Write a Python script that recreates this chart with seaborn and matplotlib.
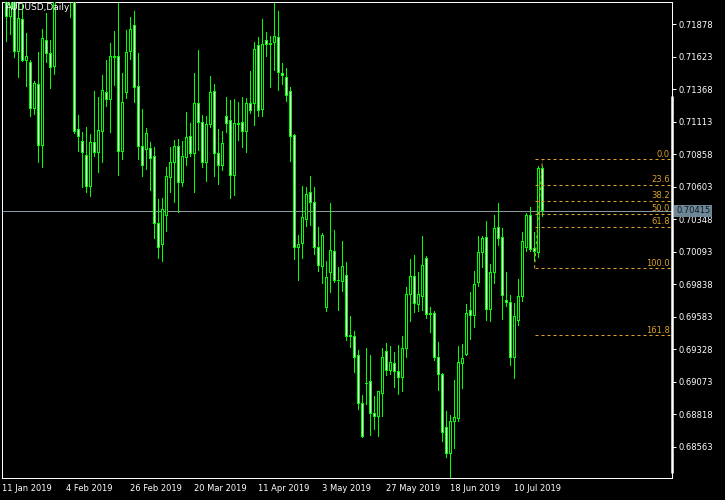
import numpy as np
import pandas as pd
import matplotlib
matplotlib.use("Agg")
import matplotlib.pyplot as plt
import matplotlib.transforms as mtransforms
import seaborn as sns

# AUDUSD daily bars, 11 Jan 2019 .. 19 Jul 2019
opens = [
    0.72133, 0.72054, 0.71944, 0.72078, 0.71662, 0.71913, 0.71591, 0.71576, 0.71222, 0.71403,
    0.70924, 0.71748, 0.71646, 0.71544, 0.72109, 0.72306, 0.72227, 0.72149, 0.72086, 0.71057,
    0.70963, 0.70853, 0.70602, 0.70948, 0.70869, 0.71034, 0.71340, 0.71285, 0.71630, 0.71623,
    0.70877, 0.71340, 0.71662, 0.71866, 0.71387, 0.70916, 0.70893, 0.70908, 0.70838, 0.70312,
    0.70147, 0.70382, 0.70673, 0.70791, 0.70916, 0.70641, 0.70830, 0.70995, 0.70861, 0.71261,
    0.71112, 0.70791, 0.71096, 0.71348, 0.70861, 0.70767, 0.71152, 0.71120, 0.70696, 0.71104,
    0.71112, 0.71034, 0.71254, 0.71254, 0.71709, 0.71214, 0.71748, 0.71717, 0.71733, 0.71772,
    0.71489, 0.71458, 0.71348, 0.71010, 0.70131, 0.70155, 0.70343, 0.70555, 0.70484, 0.70131,
    0.69975, 0.69660, 0.69929, 0.70092, 0.69872, 0.69857, 0.69904, 0.69433, 0.69425, 0.69283,
    0.68906, 0.69063, 0.69079, 0.68821, 0.68797, 0.68985, 0.69307, 0.69158, 0.69220, 0.69150,
    0.69103, 0.69331, 0.69755, 0.69896, 0.69676, 0.69739, 0.70038, 0.69606, 0.69606, 0.69267,
    0.69134, 0.68718, 0.68510, 0.68758, 0.68782, 0.69213, 0.69291, 0.69629, 0.69590, 0.69849,
    0.70084, 0.70202, 0.69644, 0.69929, 0.70288, 0.70202, 0.69715, 0.69699, 0.69267, 0.69551,
    0.69739, 0.70124, 0.70382, 0.70116, 0.70084, 0.70751,
]
highs = [
    0.72227, 0.72109, 0.72109, 0.72109, 0.72070, 0.72031, 0.71811, 0.71599, 0.71434, 0.71662,
    0.71842, 0.71968, 0.71756, 0.72188, 0.72384, 0.72463, 0.72345, 0.72266, 0.72133, 0.71167,
    0.71034, 0.71073, 0.71018, 0.71356, 0.71309, 0.71481, 0.71599, 0.71733, 0.71827, 0.72046,
    0.71497, 0.71835, 0.71937, 0.71984, 0.71654, 0.71214, 0.71065, 0.70955, 0.70916, 0.70508,
    0.70516, 0.70759, 0.70916, 0.70971, 0.70979, 0.70963, 0.71191, 0.71104, 0.71497, 0.71678,
    0.71167, 0.71159, 0.71474, 0.71411, 0.71057, 0.71042, 0.71309, 0.71285, 0.71293, 0.71269,
    0.71309, 0.71301, 0.71513, 0.71740, 0.71780, 0.71921, 0.71819, 0.71787, 0.72046, 0.71984,
    0.71576, 0.71536, 0.71387, 0.71018, 0.70225, 0.70610, 0.70602, 0.70688, 0.70602, 0.70288,
    0.70241, 0.70022, 0.70477, 0.70265, 0.69975, 0.70178, 0.70014, 0.69590, 0.69472, 0.69323,
    0.68969, 0.69338, 0.69283, 0.68961, 0.69001, 0.69338, 0.69378, 0.69354, 0.69307, 0.69362,
    0.69433, 0.69818, 0.70038, 0.70069, 0.69936, 0.70218, 0.70060, 0.69660, 0.69629, 0.69385,
    0.69142, 0.68844, 0.68813, 0.69087, 0.69354, 0.69370, 0.69684, 0.69778, 0.69944, 0.70218,
    0.70218, 0.70335, 0.69999, 0.70382, 0.70477, 0.70280, 0.69936, 0.69755, 0.69692, 0.69880,
    0.70249, 0.70398, 0.70445, 0.70249, 0.70767, 0.70767,
]
lows = [
    0.71850, 0.71740, 0.71795, 0.71615, 0.71458, 0.71583, 0.71387, 0.71152, 0.71167, 0.70791,
    0.70751, 0.71576, 0.71372, 0.71481, 0.72094, 0.72149, 0.72086, 0.71929, 0.71018, 0.70877,
    0.70594, 0.70555, 0.70524, 0.70838, 0.70712, 0.70791, 0.71230, 0.71026, 0.71395, 0.70688,
    0.70814, 0.71293, 0.71599, 0.71261, 0.70814, 0.70681, 0.70735, 0.70571, 0.70194, 0.70038,
    0.70014, 0.70249, 0.70555, 0.70477, 0.70398, 0.70602, 0.70767, 0.70838, 0.70555, 0.70885,
    0.70751, 0.70641, 0.71065, 0.70681, 0.70618, 0.70728, 0.71026, 0.70508, 0.70532, 0.70963,
    0.70908, 0.70869, 0.71175, 0.71081, 0.71152, 0.71152, 0.71623, 0.71380, 0.71513, 0.71356,
    0.71403, 0.71269, 0.70798, 0.70030, 0.69865, 0.70038, 0.70288, 0.70296, 0.70069, 0.69936,
    0.69841, 0.69621, 0.69770, 0.69849, 0.69629, 0.69778, 0.69393, 0.69338, 0.69142, 0.68852,
    0.68632, 0.68891, 0.68647, 0.68695, 0.68640, 0.68797, 0.69118, 0.69126, 0.69024, 0.68969,
    0.68993, 0.69260, 0.69543, 0.69613, 0.69621, 0.69629, 0.69566, 0.69456, 0.69236, 0.69001,
    0.68600, 0.68477, 0.68310, 0.68545, 0.68758, 0.69017, 0.69275, 0.69401, 0.69496, 0.69818,
    0.69968, 0.69551, 0.69543, 0.69841, 0.70139, 0.69558, 0.69660, 0.69197, 0.69095, 0.69511,
    0.69699, 0.70092, 0.70092, 0.70014, 0.70045, 0.70367,
]
closes = [
    0.72054, 0.71944, 0.72078, 0.71662, 0.71921, 0.71591, 0.71630, 0.71222, 0.71411, 0.70924,
    0.71764, 0.71646, 0.71536, 0.72109, 0.72306, 0.72227, 0.72149, 0.72101, 0.71034, 0.70995,
    0.70869, 0.70602, 0.70948, 0.70869, 0.71042, 0.71356, 0.71285, 0.71630, 0.71615, 0.70877,
    0.71269, 0.71654, 0.71835, 0.71380, 0.70916, 0.70767, 0.71018, 0.70822, 0.70312, 0.70131,
    0.70422, 0.70681, 0.70791, 0.70916, 0.70641, 0.70838, 0.70987, 0.70861, 0.71261, 0.71112,
    0.70791, 0.71096, 0.71340, 0.70861, 0.70767, 0.70940, 0.71104, 0.70696, 0.71104, 0.71096,
    0.71034, 0.71254, 0.71199, 0.71685, 0.71199, 0.71717, 0.71717, 0.71725, 0.71780, 0.71497,
    0.71481, 0.71317, 0.70995, 0.70131, 0.70147, 0.70359, 0.70547, 0.70477, 0.70131, 0.69983,
    0.70225, 0.69888, 0.70100, 0.69865, 0.69865, 0.69975, 0.69425, 0.69425, 0.69267, 0.68899,
    0.68640, 0.69056, 0.68821, 0.68797, 0.68993, 0.69260, 0.69158, 0.69228, 0.69150, 0.69103,
    0.69331, 0.69755, 0.69896, 0.69684, 0.69762, 0.69983, 0.69598, 0.69598, 0.69267, 0.69134,
    0.68679, 0.68510, 0.68758, 0.68789, 0.69228, 0.69252, 0.69613, 0.69590, 0.69833, 0.70084,
    0.70194, 0.69637, 0.69929, 0.70280, 0.70194, 0.69747, 0.69699, 0.69267, 0.69582, 0.69739,
    0.70178, 0.70382, 0.70108, 0.70092, 0.70751, 0.70415,
]

date_labels = ["11 Jan 2019", "4 Feb 2019", "26 Feb 2019", "20 Mar 2019", "11 Apr 2019",
               "3 May 2019", "27 May 2019", "18 Jun 2019", "10 Jul 2019"]
price_ticks = [0.68563, 0.68818, 0.69073, 0.69328, 0.69583, 0.69838, 0.70093,
               0.70348, 0.70603, 0.70858, 0.71113, 0.71368, 0.71623, 0.71878]
last_price = 0.70415
fib_high = 0.70820
fib_low = 0.69965
fib_levels = [0.0, 23.6, 38.2, 50.0, 61.8, 100.0, 161.8]

GREEN = "#00ff00"
FIB = "#dba22a"
PX = 72 / 100  # one pixel in points

sns.set_style("dark", {"axes.facecolor": "black", "figure.facecolor": "black",
                       "axes.edgecolor": "white", "text.color": "white",
                       "xtick.color": "white", "ytick.color": "white"})
plt.rcParams["font.family"] = ["DejaVu Sans"]

df = pd.DataFrame({"open": opens, "high": highs, "low": lows, "close": closes})
df["date"] = pd.bdate_range("2019-01-11", periods=len(df))
df["bar"] = np.arange(len(df))
df["bull"] = df["close"] >= df["open"]

fig = plt.figure(figsize=(7.25, 5), dpi=100)
ax = fig.add_axes([2 / 725, 22 / 500, 670 / 725, 476 / 500])
ax.set_facecolor("black")

y_lo, y_hi = 0.68318, 0.72054
px_y = (y_hi - y_lo) / 476  # one pixel in price units

# wicks, green outline, then 1px body fill (bear = white, bull = black)
ax.bar(df["bar"], df["high"] - df["low"], bottom=df["low"], width=0.25,
       color=GREEN, linewidth=0, antialiased=False, zorder=2)
body_lo = df[["open", "close"]].min(axis=1)
body_h = (df["close"] - df["open"]).abs()
ax.bar(df["bar"], body_h + px_y, bottom=body_lo - px_y / 2, width=0.75,
       color=GREEN, linewidth=0, antialiased=False, zorder=3)
ax.bar(df["bar"], (body_h - px_y).clip(lower=0), bottom=body_lo + px_y / 2,
       width=0.25, color=np.where(df["bull"], "black", "white"), linewidth=0,
       antialiased=False, zorder=4)

# current price line + label
ax.axhline(last_price, color="#8a98a2", lw=PX, zorder=1)
trans = mtransforms.blended_transform_factory(ax.transAxes, ax.transData)
ax.text(1.006, last_price, f"{last_price:.5f}", transform=trans, ha="left",
        va="center", fontsize=6, color="#0d1a20", clip_on=False,
        bbox=dict(boxstyle="square,pad=0.2", fc="#6e8796", ec="none"), zorder=6)

# fibonacci retracement
n = len(df)
fib_x0 = n - 3
x_lo = -0.125
xmax = x_lo + 670 / 4
rng = fib_high - fib_low
for lv in fib_levels:
    y = fib_high - lv / 100 * rng
    ax.hlines(y, fib_x0, xmax, colors=FIB, lw=PX, linestyles=(0, (3, 3)), zorder=5)
    ax.text(0.997, y + 0.00005, f"{lv:.1f}", transform=trans, ha="right",
            va="bottom", fontsize=6, color=FIB, zorder=5)
fib_line = pd.DataFrame({"x": [fib_x0, n - 1], "y": [fib_low, fib_high]})
sns.lineplot(data=fib_line, x="x", y="y", ax=ax, color=FIB, lw=PX,
             linestyle=(0, (3, 3)), zorder=5)

# axes
ax.set_xlim(x_lo, xmax)
ax.set_ylim(y_lo, y_hi)
ax.yaxis.tick_right()
ax.set_yticks(price_ticks)
ax.set_yticklabels([f"{v:.5f}" for v in price_ticks])
label_pos = df["date"].searchsorted(pd.to_datetime(date_labels, format="%d %b %Y"))
ax.set_xticks(df["bar"].values[label_pos])
ax.set_xticklabels(date_labels, ha="left")
ax.tick_params(axis="both", colors="white", labelsize=6, length=3, width=PX,
               direction="out", pad=1.5)
ax.set_xlabel("")
ax.set_ylabel("")
ax.grid(False)
for sp in ax.spines.values():
    sp.set_color("white")
    sp.set_linewidth(PX)
ax.plot([1, 1], [0.0105, 0.8025], transform=ax.transAxes, color="white",
        lw=1.8, solid_capstyle="butt", clip_on=False, zorder=6)

fig.text(6 / 725, 1 - 3 / 500, "AUDUSD,Daily", color="white", fontsize=6.5,
         ha="left", va="top")

fig.savefig("out.png", dpi=100, facecolor="black")
